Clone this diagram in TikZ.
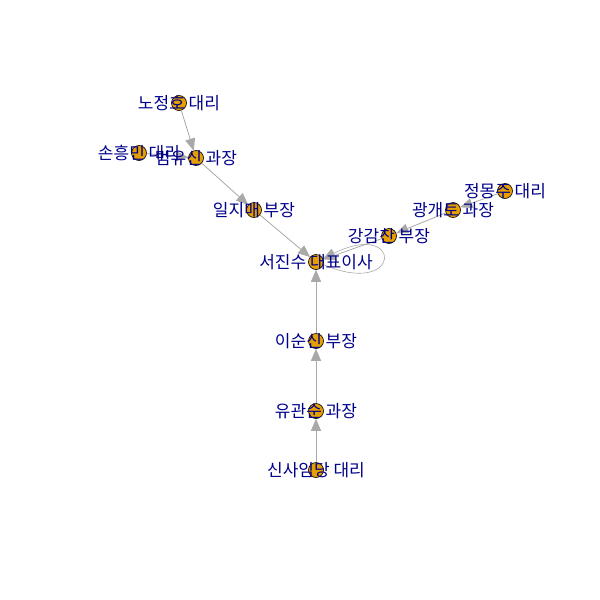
\documentclass[tikz,border=0pt]{standalone}
\usepackage{fontspec}
\newfontfamily\kr{Noto Sans CJK KR}
\usetikzlibrary{arrows.meta}
\definecolor{vfill}{HTML}{E69F00}
\definecolor{edgec}{HTML}{A9A9A9}
\definecolor{labc}{HTML}{00008B}
\tikzset{
  vtx/.style={circle,draw=black,fill=vfill,line width=0.6pt,minimum size=15pt,inner sep=0pt},
  lab/.style={text=labc,font=\kr\fontsize{17}{17}\selectfont,inner sep=0pt},
  edge/.style={draw=edgec,line width=0.8pt,-{Triangle[length=12pt,width=10pt]}},
  selfloop/.style={draw=edgec,line width=0.6pt,-{Triangle[length=12pt,width=10pt]}}
}
\begin{document}
\begin{tikzpicture}[x=1pt,y=-1pt]
\fill[white] (0,0) rectangle (600,600);
\useasboundingbox (0,0) rectangle (600,600);
\node[vtx] (n1) at (179,103) {};
\node[vtx] (n2) at (139,153) {};
\node[vtx] (n3) at (196,158) {};
\node[vtx] (n4) at (254,210) {};
\node[vtx] (n5) at (505,191) {};
\node[vtx] (n6) at (453,210) {};
\node[vtx] (n7) at (389,236) {};
\node[vtx] (n8) at (316,262) {};
\node[vtx] (n9) at (316,341) {};
\node[vtx] (n10) at (316,411) {};
\node[vtx] (n11) at (316,470) {};
\draw[edge] (n1) -- (n3);
\draw[edge] (n2) -- (n3);
\draw[edge] (n3) -- (n4);
\draw[edge] (n4) -- (n8);
\draw[edge] (n5) -- (n6);
\draw[edge] (n6) -- (n7);
\draw[edge] (n7) -- (n8);
\draw[edge] (n9) -- (n8);
\draw[edge] (n10) -- (n9);
\draw[edge] (n11) -- (n10);
\draw[selfloop] (n8.-20) .. controls +(80,34) and +(80,-40) .. (n8.25);
\node[lab] (l1) at (179,103) {노정호 대리};
\node[lab] (l2) at (139,153) {손흥민 대리};
\node[lab] (l3) at (196,158) {범유신 과장};
\node[lab] (l4) at (254,210) {일지매 부장};
\node[lab] (l5) at (505,191) {정몽주 대리};
\node[lab] (l6) at (453,210) {광개토 과장};
\node[lab] (l7) at (389,236) {강감찬 부장};
\node[lab] (l8) at (316,262) {서진수 대표이사};
\node[lab] (l9) at (316,341) {이순신 부장};
\node[lab] (l10) at (316,411) {유관순 과장};
\node[lab] (l11) at (316,470) {신사임당 대리};
\end{tikzpicture}
\end{document}
